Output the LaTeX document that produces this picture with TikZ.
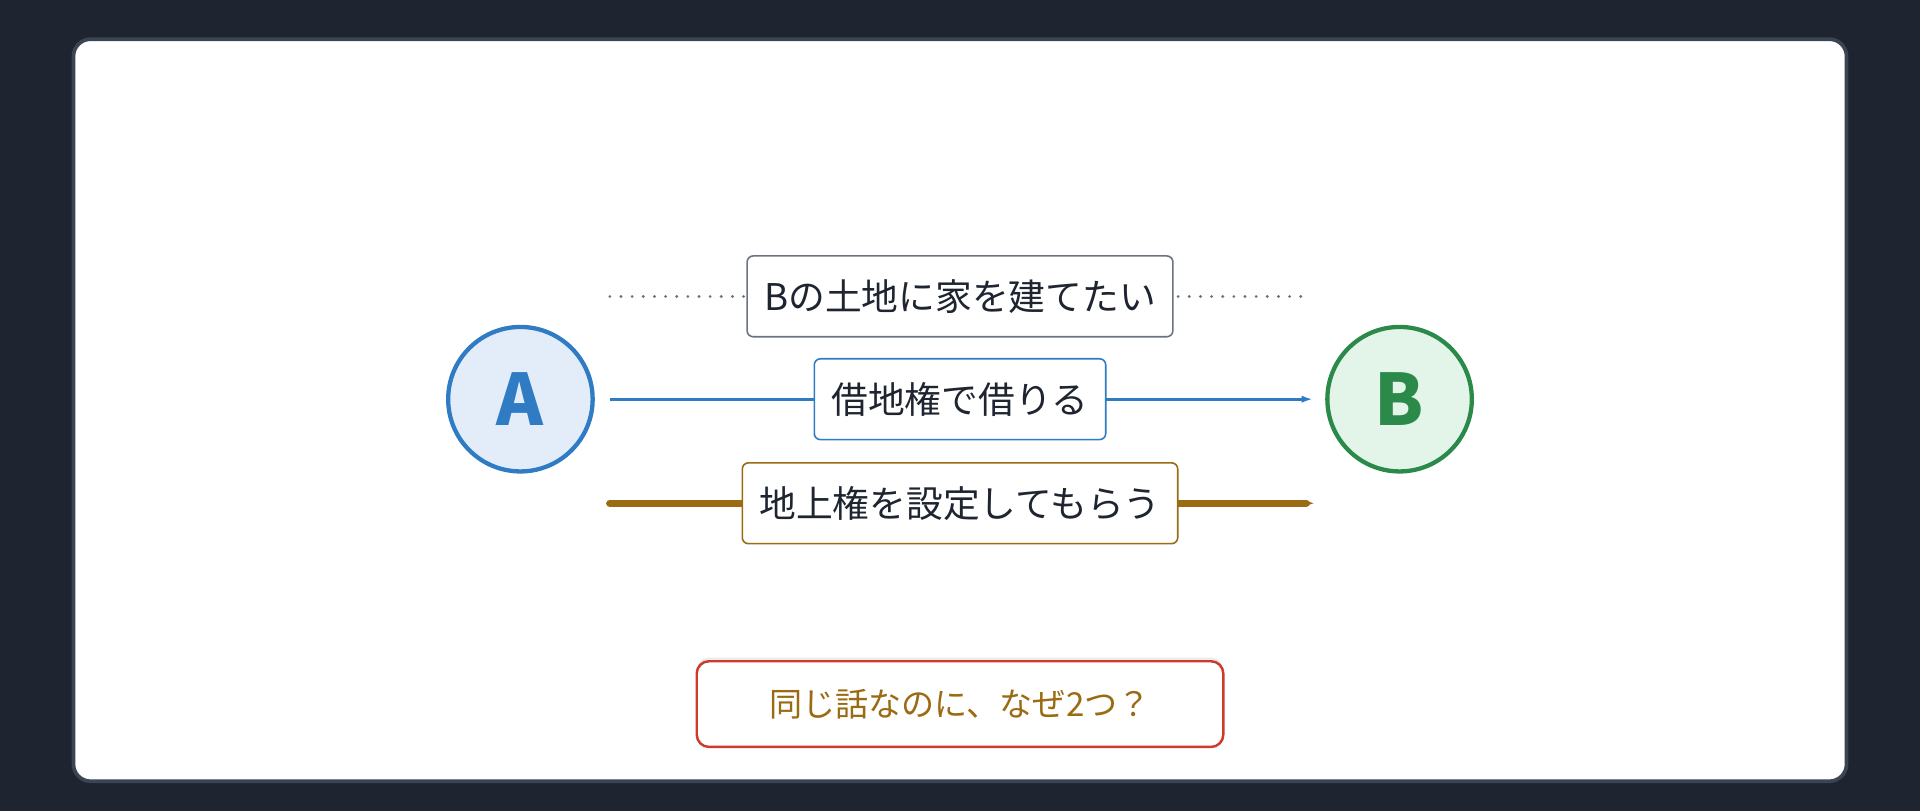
\documentclass[tikz,border=0pt]{standalone}
\usepackage{fontspec}
\setmainfont{Noto Sans CJK JP}
\newfontfamily\cjk{Noto Sans CJK JP}
\usetikzlibrary{arrows.meta,shadows}
\definecolor{bg}{HTML}{1E2530}
\definecolor{frame}{HTML}{3A4452}
\definecolor{txt}{HTML}{1E2530}
\definecolor{gr}{HTML}{6B7280}
\definecolor{bl}{HTML}{2F7BC4}
\definecolor{blf}{HTML}{E3EDF9}
\definecolor{gn}{HTML}{2B8A4A}
\definecolor{gnf}{HTML}{E3F5E8}
\definecolor{gd}{HTML}{9A6B12}
\definecolor{rd}{HTML}{CC3B2B}
\begin{document}
\begin{tikzpicture}[x=1pt,y=-1pt,
  party/.style={circle,minimum size=118pt,line width=3.5pt,inner sep=0pt,font=\cjk\fontsize{58}{58}\selectfont\bfseries},
  lab/.style={rounded corners=5pt,fill=white,line width=1.3pt,minimum height=66pt,inner xsep=14pt,text=txt,font=\cjk\fontsize{30}{30}\selectfont}]
\useasboundingbox (0,0) rectangle (1568,662);
\fill[bg] (0,0) rectangle (1568,662);
\draw[frame,fill=white,line width=3pt,rounded corners=14pt] (60,32) rectangle (1508,638);
\node[party,draw=bl,fill=blf,text=bl] (A) at (425,326) {A};
\node[party,draw=gn,fill=gnf,text=gn] (B) at (1143,326) {B};
\coordinate (d1) at (498,242); \coordinate (d2) at (1065,242);
\coordinate (b1) at (498,326); \coordinate (b2) at (1072,326);
\coordinate (g1) at (498,411); \coordinate (g2) at (1074,411);
\draw[gr,line width=2.5pt,line cap=round,dash pattern=on 0.1pt off 9pt] (d1) -- (d2);
\draw[bl,line width=2.5pt,-{Latex[length=9pt,width=6pt]}] (b1) -- (b2);
\draw[gd,line width=6pt,line cap=round,-{Latex[length=8pt,width=5pt]}] (g1) -- (g2);
\node[lab,draw=gr] (L1) at (784,242) {Bの土地に家を建てたい};
\node[lab,draw=bl] (L2) at (784,326) {借地権で借りる};
\node[lab,draw=gd] (L3) at (784,411) {地上権を設定してもらう};
\node[rounded corners=10pt,fill=white,draw=rd,line width=2pt,minimum width=430pt,minimum height=70pt,text=gd,
  drop shadow={opacity=0.15,shadow xshift=0pt,shadow yshift=3pt},font=\cjk\fontsize{27}{27}\selectfont] (Q) at (784,575) {同じ話なのに、なぜ2つ？};
\end{tikzpicture}
\end{document}
